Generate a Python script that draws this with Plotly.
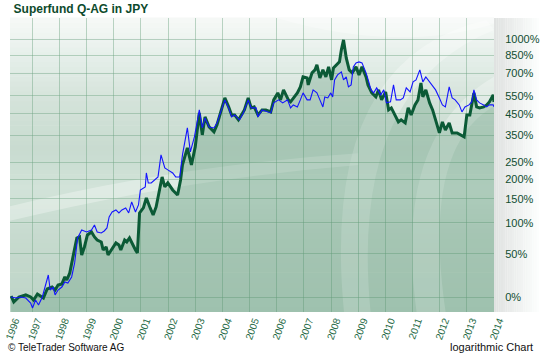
import plotly.graph_objects as go

TITLE = "Superfund Q-AG in JPY"

green_year = [1996.22, 1996.32, 1996.51, 1996.76, 1996.94, 1997.05, 1997.19, 1997.30, 1997.41, 1997.55,
              1997.73, 1997.84, 1997.95, 1998.09, 1998.20, 1998.27, 1998.38, 1998.49, 1998.64, 1998.74,
              1998.82, 1998.92, 1999.03, 1999.18, 1999.29, 1999.39, 1999.54, 1999.61, 1999.72, 1999.79,
              1999.90, 2000.08, 2000.19, 2000.26, 2000.40, 2000.48, 2000.58, 2000.66, 2000.80, 2000.87,
              2000.95, 2001.09, 2001.20, 2001.34, 2001.45, 2001.56, 2001.70, 2001.78, 2001.88, 2001.99,
              2002.17, 2002.35, 2002.46, 2002.53, 2002.71, 2002.86, 2003.00, 2003.15, 2003.26, 2003.36,
              2003.51, 2003.69, 2003.80, 2003.94, 2004.09, 2004.23, 2004.34, 2004.45, 2004.59, 2004.70,
              2004.81, 2004.95, 2005.06, 2005.17, 2005.31, 2005.46, 2005.60, 2005.78, 2005.89, 2006.04,
              2006.14, 2006.25, 2006.43, 2006.51, 2006.61, 2006.76, 2006.87, 2006.97, 2007.12, 2007.16,
              2007.30, 2007.41, 2007.48, 2007.59, 2007.70, 2007.81, 2007.91, 2008.02, 2008.09, 2008.20,
              2008.31, 2008.38, 2008.46, 2008.56, 2008.67, 2008.78, 2008.92, 2009.03, 2009.14, 2009.29,
              2009.36, 2009.50, 2009.65, 2009.75, 2009.86, 2010.01, 2010.12, 2010.22, 2010.37, 2010.48,
              2010.58, 2010.73, 2010.84, 2010.95, 2011.09, 2011.20, 2011.31, 2011.38, 2011.49, 2011.63,
              2011.74, 2011.85, 2011.99, 2012.10, 2012.21, 2012.35, 2012.46, 2012.64, 2012.90, 2013.00,
              2013.11, 2013.26, 2013.36, 2013.47, 2013.62, 2013.73, 2013.83, 2013.97, 2014.00]
green_pct = [1.2, -4.3, 0.3, 2.2, 0.3, -2.5, 3.1, 1.2, -0.7, 8.0,
             10.0, 7.0, 12.1, 13.2, 20.8, 17.4, 25.3, 44.1, 73.5, 75.2,
             48.2, 59.6, 78.4, 83.5, 75.2, 70.3, 67.2, 55.2, 59.6, 48.2,
             55.2, 65.7, 62.6, 55.2, 70.3, 67.2, 73.5, 65.7, 55.2, 51.0,
             118.9, 129.4, 151.7, 129.4, 114.9, 131.5, 171.1, 206.0, 178.8, 189.4,
             171.1, 158.8, 197.5, 242.1, 300.7, 242.1, 304.4, 454.7, 352.1, 434.5,
             387.0, 364.9, 396.2, 459.9, 537.7, 486.5, 444.5, 444.5, 419.8, 444.5,
             470.4, 537.7, 481.1, 486.5, 444.5, 470.4, 470.4, 459.9, 526.0, 568.1,
             526.0, 587.0, 526.0, 514.5, 537.7, 568.1, 606.4, 675.2, 668.0, 619.6,
             704.6, 727.4, 766.8, 668.0, 727.4, 675.2, 750.8, 653.9, 742.9, 766.8,
             791.3, 896.4, 993.4, 825.0, 727.4, 704.6, 750.8, 689.8, 750.8, 675.2,
             619.6, 568.1, 543.7, 587.0, 526.0, 574.3, 470.4, 481.1, 434.5, 410.2,
             419.8, 405.5, 481.1, 444.5, 497.5, 526.0, 633.1, 543.7, 587.0, 508.8,
             470.4, 419.8, 360.6, 410.2, 373.6, 405.5, 360.6, 360.6, 343.8, 444.5,
             444.5, 568.1, 486.5, 481.1, 486.5, 497.5, 514.5, 555.8, 514.5]

blue_year = [1996.22, 1996.40, 1996.58, 1996.76, 1996.94, 1997.01, 1997.12, 1997.23, 1997.37, 1997.48,
             1997.59, 1997.66, 1997.77, 1997.84, 1997.95, 1998.09, 1998.20, 1998.31, 1998.45, 1998.56,
             1998.67, 1998.82, 1999.00, 1999.18, 1999.29, 1999.39, 1999.54, 1999.65, 1999.75, 1999.83,
             1999.94, 2000.08, 2000.19, 2000.30, 2000.44, 2000.55, 2000.66, 2000.80, 2000.91, 2000.98,
             2001.16, 2001.20, 2001.27, 2001.38, 2001.52, 2001.63, 2001.74, 2001.88, 2001.99, 2002.17,
             2002.28, 2002.43, 2002.53, 2002.71, 2002.82, 2002.97, 2003.15, 2003.26, 2003.36, 2003.51,
             2003.69, 2003.80, 2003.94, 2004.09, 2004.23, 2004.34, 2004.45, 2004.63, 2004.77, 2004.95,
             2005.06, 2005.24, 2005.31, 2005.46, 2005.78, 2005.89, 2006.07, 2006.22, 2006.40, 2006.51,
             2006.61, 2006.76, 2006.87, 2006.97, 2007.12, 2007.23, 2007.34, 2007.48, 2007.59, 2007.70,
             2007.77, 2007.88, 2007.99, 2008.06, 2008.13, 2008.24, 2008.38, 2008.46, 2008.56, 2008.64,
             2008.74, 2008.82, 2008.92, 2009.03, 2009.14, 2009.29, 2009.39, 2009.47, 2009.57, 2009.68,
             2009.83, 2009.94, 2010.04, 2010.19, 2010.30, 2010.40, 2010.55, 2010.66, 2010.77, 2010.91,
             2011.02, 2011.13, 2011.27, 2011.38, 2011.49, 2011.63, 2011.74, 2011.85, 2011.99, 2012.10,
             2012.21, 2012.35, 2012.46, 2012.57, 2012.72, 2012.82, 2012.93, 2013.08, 2013.18, 2013.26,
             2013.36, 2013.47, 2013.62, 2013.73, 2013.83, 2013.97, 2014.00]
blue_pct = [0.3, -0.7, 0.3, -0.7, -5.2, -9.5, -2.5, -6.9, 0.3, 10.0,
            23.0, 7.0, 10.0, 2.2, 7.0, 10.0, 15.3, 14.2, 20.8, 37.6,
            73.5, 86.9, 83.5, 86.9, 95.8, 83.5, 81.8, 85.2, 90.4, 111.0,
            121.0, 125.1, 118.9, 125.1, 129.4, 118.9, 142.5, 121.0, 135.8, 171.1,
            178.8, 217.6, 189.4, 189.4, 197.5, 206.0, 275.4, 232.7, 226.6, 217.6,
            206.0, 206.0, 275.4, 382.5, 286.0, 343.8, 470.4, 382.5, 429.5, 387.0,
            382.5, 405.5, 459.9, 526.0, 481.1, 434.5, 444.5, 419.8, 454.7, 526.0,
            481.1, 481.1, 434.5, 470.4, 454.7, 508.8, 526.0, 508.8, 526.0, 481.1,
            497.5, 486.5, 526.0, 568.1, 526.0, 526.0, 587.0, 568.1, 526.0, 486.5,
            543.7, 537.7, 568.1, 543.7, 653.9, 689.8, 712.1, 653.9, 675.2, 606.4,
            619.6, 750.8, 783.0, 791.3, 783.0, 704.6, 640.0, 587.0, 568.1, 599.9,
            555.8, 587.0, 508.8, 514.5, 619.6, 526.0, 526.0, 537.7, 599.9, 574.3,
            640.0, 653.9, 727.4, 640.0, 675.2, 640.0, 606.4, 587.0, 537.7, 497.5,
            486.5, 606.4, 537.7, 526.0, 497.5, 459.9, 486.5, 497.5, 514.5, 587.0,
            526.0, 508.8, 497.5, 486.5, 497.5, 497.5, 486.5]

y_tick_pct = [0, 50, 100, 150, 200, 250, 350, 450, 550, 700, 850, 1000]
x_tick_years = list(range(1996, 2015))
x_start, x_end = 1996.18, 2014.0


def growth(p):
    return 1 + p / 100.0


fig = go.Figure()

# ---- decorative background (plot area) ----
stops = [(0.0, (190, 213, 200)), (0.25, (198, 218, 206)), (0.42, (210, 227, 217)),
         (0.55, (200, 219, 208)), (0.72, (212, 227, 218)), (0.88, (231, 240, 235)), (1.0, (246, 249, 247))]


def interp(t):
    for (t0, c0), (t1, c1) in zip(stops[:-1], stops[1:]):
        if t0 <= t <= t1:
            f = (t - t0) / (t1 - t0)
            return tuple(int(round(a + (b - a) * f)) for a, b in zip(c0, c1))
    return stops[-1][1]


shapes = []
N = 60
for i in range(N):
    y0, y1 = i / N, (i + 1) / N
    c = interp((y0 + y1) / 2)
    shapes.append(dict(type="rect", xref="paper", yref="paper", x0=0, x1=1, y0=y0, y1=y1 + 0.002,
                       fillcolor="rgb(%d,%d,%d)" % c, line=dict(width=0), layer="below"))

# light swooshes (watermark-like)
swooshes = [
    "M 0.984 0.993 Q 0.640 0.860 0.690 0 L 0.745 0 Q 0.700 0.760 1.0 0.959 Z",
    "M 1.0 0.80 Q 0.790 0.600 0.840 0 L 0.900 0 Q 0.850 0.560 1.0 0.70 Z",
    "M 0 0.36 Q 0.35 0.50 0.72 0.54 L 0.72 0.50 Q 0.35 0.45 0 0.31 Z",
    "M 0.55 1.0 Q 0.80 0.88 1.0 0.98 L 1.0 1.0 Z",
]
for p in swooshes:
    shapes.append(dict(type="path", xref="paper", yref="paper", path=p,
                       fillcolor="rgba(255,255,255,0.30)", line=dict(width=0), layer="below"))

# right label panel: soft gray fading to white
M = 20
for i in range(M):
    f = i / M
    v = int(round(226 + (255 - 226) * f))
    shapes.append(dict(type="rect", xref="paper", yref="paper", x0=1 + f * 0.093, x1=1 + (f + 1.05 / M) * 0.093,
                       y0=0, y1=1, fillcolor="rgb(%d,%d,%d)" % (v - 2, v, v - 1), line=dict(width=0), layer="below"))

fig.add_trace(go.Scatter(
    x=green_year, y=[growth(p) for p in green_pct], mode="lines",
    line=dict(color="#0b5a36", width=3), fill="tozeroy", fillcolor="rgba(60,130,90,0.24)",
    hoverinfo="skip", showlegend=False))
fig.add_trace(go.Scatter(
    x=blue_year, y=[growth(p) for p in blue_pct], mode="lines",
    line=dict(color="#1414ff", width=1.1), hoverinfo="skip", showlegend=False))

tickvals_x = [x_start] + x_tick_years[1:]
ticktext_x = [str(y) for y in x_tick_years]

fig.update_layout(
    width=544, height=353,
    margin=dict(l=4, r=46, t=18, b=41),
    paper_bgcolor="white", plot_bgcolor="rgba(0,0,0,0)",
    font=dict(family="Liberation Sans, Arial, sans-serif"),
    shapes=shapes,
    title=dict(text="<b>" + TITLE + "</b>", x=4 / 544, xanchor="left", xref="paper",
               y=1 - 9 / 353, yanchor="middle", font=dict(size=12, color="#0d4a2c")),
    xaxis=dict(range=[x_start, x_end], tickvals=tickvals_x, ticktext=ticktext_x,
               tickangle=-70, tickfont=dict(size=10, color="#1f6a46"),
               showgrid=True, gridcolor="rgba(110,165,130,0.45)", gridwidth=1,
               zeroline=False, showline=False, ticks="", ticklabelshift=5,
               ticklabeloverflow="allow"),
    yaxis=dict(type="log", side="right", range=[-0.0594, 1.1271],
               tickvals=[growth(p) for p in y_tick_pct], ticktext=["%d%%" % p for p in y_tick_pct],
               tickfont=dict(size=11, color="#114d31"),
               showgrid=True, gridcolor="rgba(110,165,130,0.45)", gridwidth=1,
               zeroline=False, showline=False, ticks="outside", ticklen=8, tickcolor="rgba(0,0,0,0)"),
    annotations=[
        dict(text="© TeleTrader Software AG", xref="paper", yref="paper", x=-4 / 494, y=-35 / 294,
             xanchor="left", yanchor="middle", showarrow=False, font=dict(size=10, color="#111111")),
        dict(text="logarithmic Chart", xref="paper", yref="paper", x=1 + 42 / 494, y=-35 / 294,
             xanchor="right", yanchor="middle", showarrow=False, font=dict(size=11, color="#111111")),
    ],
)

fig.write_html("out.html")
